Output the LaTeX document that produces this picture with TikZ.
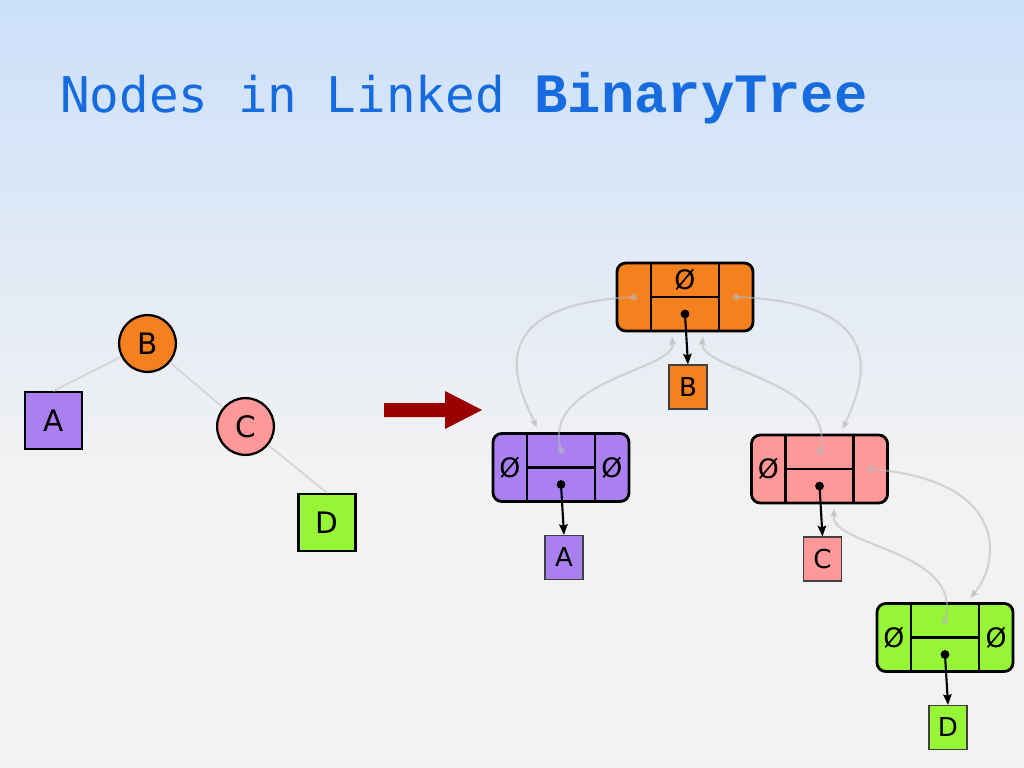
\documentclass[tikz,border=0pt]{standalone}
\usepackage{fontspec}
\setmainfont{DejaVu Sans}
\newfontfamily\titlefont{DejaVu Sans Mono}
\newfontfamily\codefont{Liberation Mono}
\usetikzlibrary{calc,arrows.meta}
\definecolor{bgblue}{RGB}{204,224,250}
\definecolor{bggray}{RGB}{242,242,242}
\definecolor{titleblue}{RGB}{22,108,222}
\definecolor{borange}{RGB}{245,128,30}
\definecolor{apurple}{RGB}{170,128,240}
\definecolor{cpink}{RGB}{255,153,153}
\definecolor{dgreen}{RGB}{150,245,55}
\definecolor{bigred}{RGB}{153,0,0}
\definecolor{linkgray}{RGB}{185,185,185}
\tikzset{
  treecircle/.style={circle,draw,line width=1.6pt,minimum size=1.42cm,inner sep=0pt,font=\fontsize{21}{21}\selectfont},
  treesquare/.style={rectangle,draw,line width=1.6pt,minimum size=1.42cm,inner sep=0pt,font=\fontsize{21}{21}\selectfont},
  treeedge/.style={draw=black!17,line width=1.2pt},
  linkbox/.style={rectangle,rounded corners=0.22cm,draw,line width=2pt,minimum width=3.4cm,minimum height=1.7cm},
  divider/.style={line width=1.8pt},
  valuebox/.style={rectangle,draw=black!75,line width=0.8pt,minimum width=0.95cm,minimum height=1.1cm,inner sep=0pt,font=\fontsize{18.5}{18.5}\selectfont},
  nullmark/.style={inner sep=0pt,font=\fontsize{19}{19}\selectfont},
  elemdot/.style={circle,fill=black,inner sep=0pt,minimum size=0.22cm},
  linkdot/.style={circle,fill=linkgray,fill opacity=0.55,inner sep=0pt,minimum size=0.18cm},
  elemptr/.style={-{Stealth[length=7.5pt,width=6pt,inset=1pt]},line width=1.5pt},
  linkptr/.style={-{Stealth[length=6pt,width=5pt,inset=0.5pt]},draw=linkgray,draw opacity=0.55,fill opacity=0.55,line width=1.5pt}
}
\begin{document}
\begin{tikzpicture}[x=0.025cm,y=-0.025cm]
\useasboundingbox (0,0) rectangle (1024,768);
\shade[top color=bgblue,bottom color=bggray] (0,0) rectangle (1024,470);
\fill[bggray] (0,469) rectangle (1024,768);

\node[anchor=base west,inner sep=0pt,text=titleblue] (title) at (60,113)
  {\titlefont\fontsize{35}{40}\selectfont Nodes in Linked \codefont\bfseries\fontsize{39.5}{40}\selectfont BinaryTree};

\node[treecircle,fill=borange] (tb) at (147.5,343.5) {B};
\node[treesquare,fill=apurple] (ta) at (53.5,420.5) {A};
\node[treecircle,fill=cpink] (tc) at (245.5,426.5) {C};
\node[treesquare,fill=dgreen] (td) at (327,522.5) {D};
\draw[treeedge] (tb) -- (ta.north);
\draw[treeedge] (tb) -- (tc);
\draw[treeedge] (tc) -- (td.north);

\fill[bigred] (384,403) -- (445,403) -- (445,391) -- (482,410) -- (445,429) -- (445,417) -- (384,417) -- cycle;

\foreach \nm/\lbl/\x/\y/\c in {b/B/685/297/borange,a/A/561/467.5/apurple,c/C/819.5/469/cpink,d/D/945/637.5/dgreen}{
  \node[linkbox,fill=\c] (l\nm) at (\x,\y) {};
  \draw[divider] ($(l\nm.north)+(-34,0)$) -- ($(l\nm.south)+(-34,0)$);
  \draw[divider] ($(l\nm.north)+(34,0)$) -- ($(l\nm.south)+(34,0)$);
  \draw[divider] ($(l\nm)+(-34,0)$) -- ($(l\nm)+(34,0)$);
  \coordinate (l\nm-left) at ($(l\nm)+(-51,0)$);
  \coordinate (l\nm-right) at ($(l\nm)+(51,0)$);
  \coordinate (l\nm-parent) at ($(l\nm)+(0,-17)$);
  \node[valuebox,fill=\c] (v\nm) at ($(l\nm)+(3,90)$) {\lbl};
  \node[elemdot] (e\nm) at ($(l\nm)+(0,17)$) {};
  \draw[elemptr] (e\nm.center) -- (v\nm.north);
}

\node[nullmark] (nb-parent) at (lb-parent) {Ø};
\node[nullmark] (na-left) at (la-left) {Ø};
\node[nullmark] (na-right) at (la-right) {Ø};
\node[nullmark] (nc-left) at (lc-left) {Ø};
\node[nullmark] (nd-left) at (ld-left) {Ø};
\node[nullmark] (nd-right) at (ld-right) {Ø};

\node[linkdot] (db-left) at (lb-left) {};
\node[linkdot] (db-right) at (lb-right) {};
\node[linkdot] (da-parent) at (la-parent) {};
\node[linkdot] (dc-parent) at (lc-parent) {};
\node[linkdot] (dc-right) at (lc-right) {};
\node[linkdot] (dd-parent) at (ld-parent) {};

\draw[linkptr] (db-left.center) .. controls +(-164,8) and +(-15,-34) .. ($(la.north)+(-24,-4)$);
\draw[linkptr] (da-parent.center) .. controls +(-21,-70) and +(3,34) .. ($(lb.south)+(-13,4)$);
\draw[linkptr] (db-right.center) .. controls +(169,6) and +(15,-35) .. ($(lc.north)+(23,-4)$);
\draw[linkptr] (dc-parent.center) .. controls +(21,-70) and +(-3,34) .. ($(lb.south)+(18,4)$);
\draw[linkptr] (dc-right.center) .. controls +(140,11) and +(30,-35) .. ($(ld.north)+(25,-4)$);
\draw[linkptr] (dd-parent.center) .. controls +(20,-70) and +(-4,38) .. ($(lc.south)+(15,4)$);
\end{tikzpicture}
\end{document}
